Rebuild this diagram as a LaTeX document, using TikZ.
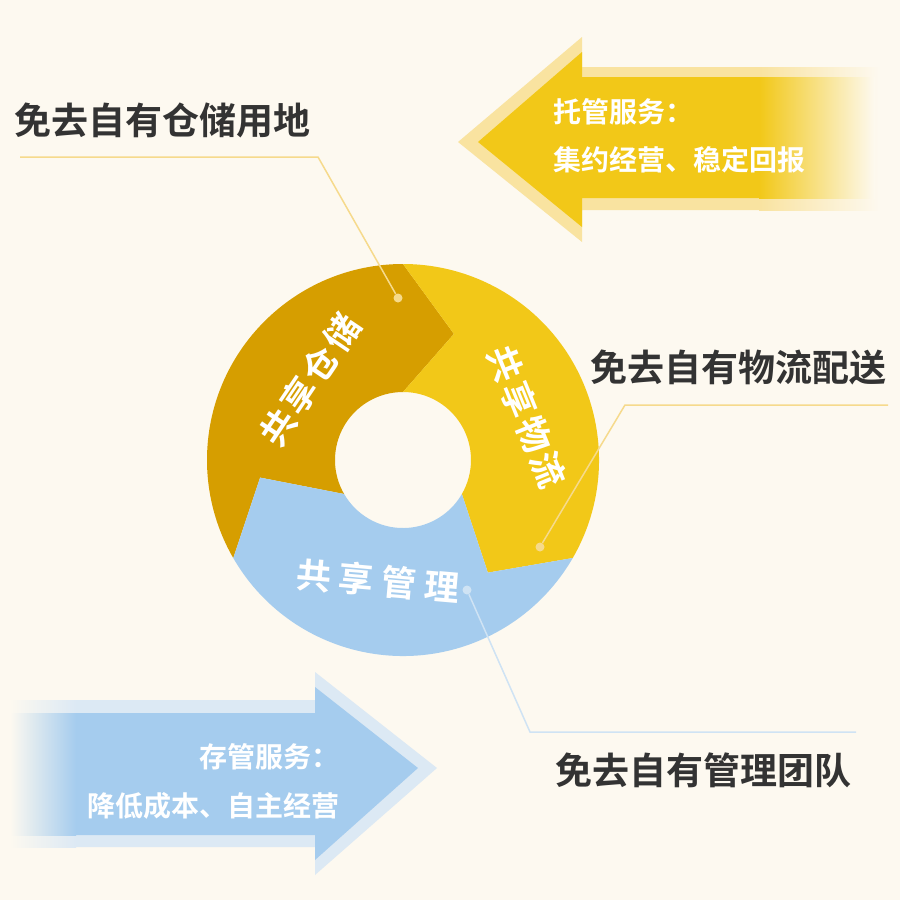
\documentclass[tikz,border=0pt]{standalone}
\usepackage{fontspec}
\setmainfont{Noto Sans CJK SC}[BoldFont={Noto Sans CJK SC Bold}]
\definecolor{bg}{HTML}{FDF9F0}
\definecolor{gold}{HTML}{D69E00}
\definecolor{yel}{HTML}{F2C818}
\definecolor{blu}{HTML}{A5CCEE}
\definecolor{yelL}{HTML}{F9E3A0}
\definecolor{bluL}{HTML}{DCE9F4}
\definecolor{txt}{HTML}{333333}
\definecolor{lineY}{HTML}{F6DA8C}
\definecolor{lineB}{HTML}{CFE3F4}
\tikzset{
  big/.style={font=\fontsize{37}{37}\selectfont\bfseries, text=txt, inner sep=0pt},
  ringlbl/.style={font=\fontsize{35}{35}\selectfont\bfseries, text=white, inner sep=0pt},
  arrlbl/.style={font=\fontsize{28}{28}\selectfont\bfseries, text=white, inner sep=0pt},
  dotY/.style={circle, fill=lineY, minimum size=9pt, inner sep=0pt},
  dotB/.style={circle, fill=lineB, minimum size=9pt, inner sep=0pt},
  leadY/.style={draw=lineY, line width=1.5pt},
  leadB/.style={draw=lineB, line width=1.5pt}
}
\begin{document}
\begin{tikzpicture}[x=1pt,y=-1pt]
\fill[bg] (0,0) rectangle (900,900);
\useasboundingbox (0,0) rectangle (900,900);
% top arrow
\path[fill=yelL] (458,142) -- (582,37) -- (582,67) -- (760,67) -- (760,210) -- (582,210) -- (582,242) -- cycle;
\shade[left color=yelL, right color=bg] (759,67) rectangle (880,210);
\path[fill=yel] (478,142) -- (582,52) -- (582,77) -- (760,77) -- (760,198) -- (582,198) -- (582,227) -- cycle;
\shade[left color=yel, right color=bg] (759,77) rectangle (875,198);
\node[arrlbl, anchor=west] (t1) at (553,112) {托管服务：};
\node[arrlbl, anchor=west] (t2) at (553,160) {集约经营、稳定回报};
% bottom arrow
\path[fill=bluL] (437,768) -- (315,672) -- (315,700) -- (75,700) -- (75,847) -- (315,847) -- (315,875) -- cycle;
\shade[left color=bg, right color=bluL] (10,700) rectangle (76,847);
\path[fill=blu] (418,768) -- (315,687) -- (315,713) -- (75,713) -- (75,835) -- (315,835) -- (315,860) -- cycle;
\shade[left color=bg, right color=blu] (10,713) rectangle (76,835);
\node[arrlbl, anchor=east] (b1) at (340,757) {存管服务：};
\node[arrlbl, anchor=east] (b2) at (340,806) {降低成本、自主经营};
% ring
\begin{scope}[shift={(403,460)}, yscale=-1]
\fill[gold] (90:196) arc[start angle=90,end angle=210,radius=196] -- (187:144) -- (210:68) arc[start angle=210,end angle=90,radius=68] -- (68:136) -- cycle;
\fill[yel] (-30:196) arc[start angle=-30,end angle=90,radius=196] -- (68:136) -- (90:68) arc[start angle=90,end angle=-30,radius=68] -- (-53:141) -- cycle;
\fill[blu] (210:196) arc[start angle=210,end angle=330,radius=196] -- (-53:141) -- (330:68) arc[start angle=330,end angle=210,radius=68] -- (187:144) -- cycle;
\end{scope}
\node[ringlbl, rotate=56] (r1) at (310,380) {共\hspace{3pt}享\hspace{3pt}仓\hspace{3pt}储};
\node[ringlbl, rotate=-68] (r2) at (527,417) {共\hspace{3pt}享\hspace{3pt}物\hspace{3pt}流};
\node[ringlbl, rotate=-5] (r3) at (378,581) {共\hspace{8pt}享\hspace{8pt}管\hspace{8pt}理};
% leaders
\node[big, anchor=west] (l1) at (14,120) {免去自有仓储用地};
\coordinate (l1a) at (20,157);
\coordinate (l1b) at (318,157);
\node[dotY] (d1) at (398,298) {};
\draw[leadY] (l1a) -- (l1b) -- (d1);
\node[big, anchor=west] (l2) at (590,367) {免去自有物流配送};
\coordinate (l2a) at (888,405);
\coordinate (l2b) at (625,405);
\node[dotY] (d2) at (540,547) {};
\draw[leadY] (l2a) -- (l2b) -- (d2);
\node[big, anchor=west] (l3) at (555,770) {免去自有管理团队};
\coordinate (l3a) at (856,732);
\coordinate (l3b) at (530,732);
\node[dotB] (d3) at (467,590) {};
\draw[leadB] (l3a) -- (l3b) -- (d3);
\end{tikzpicture}
\end{document}
